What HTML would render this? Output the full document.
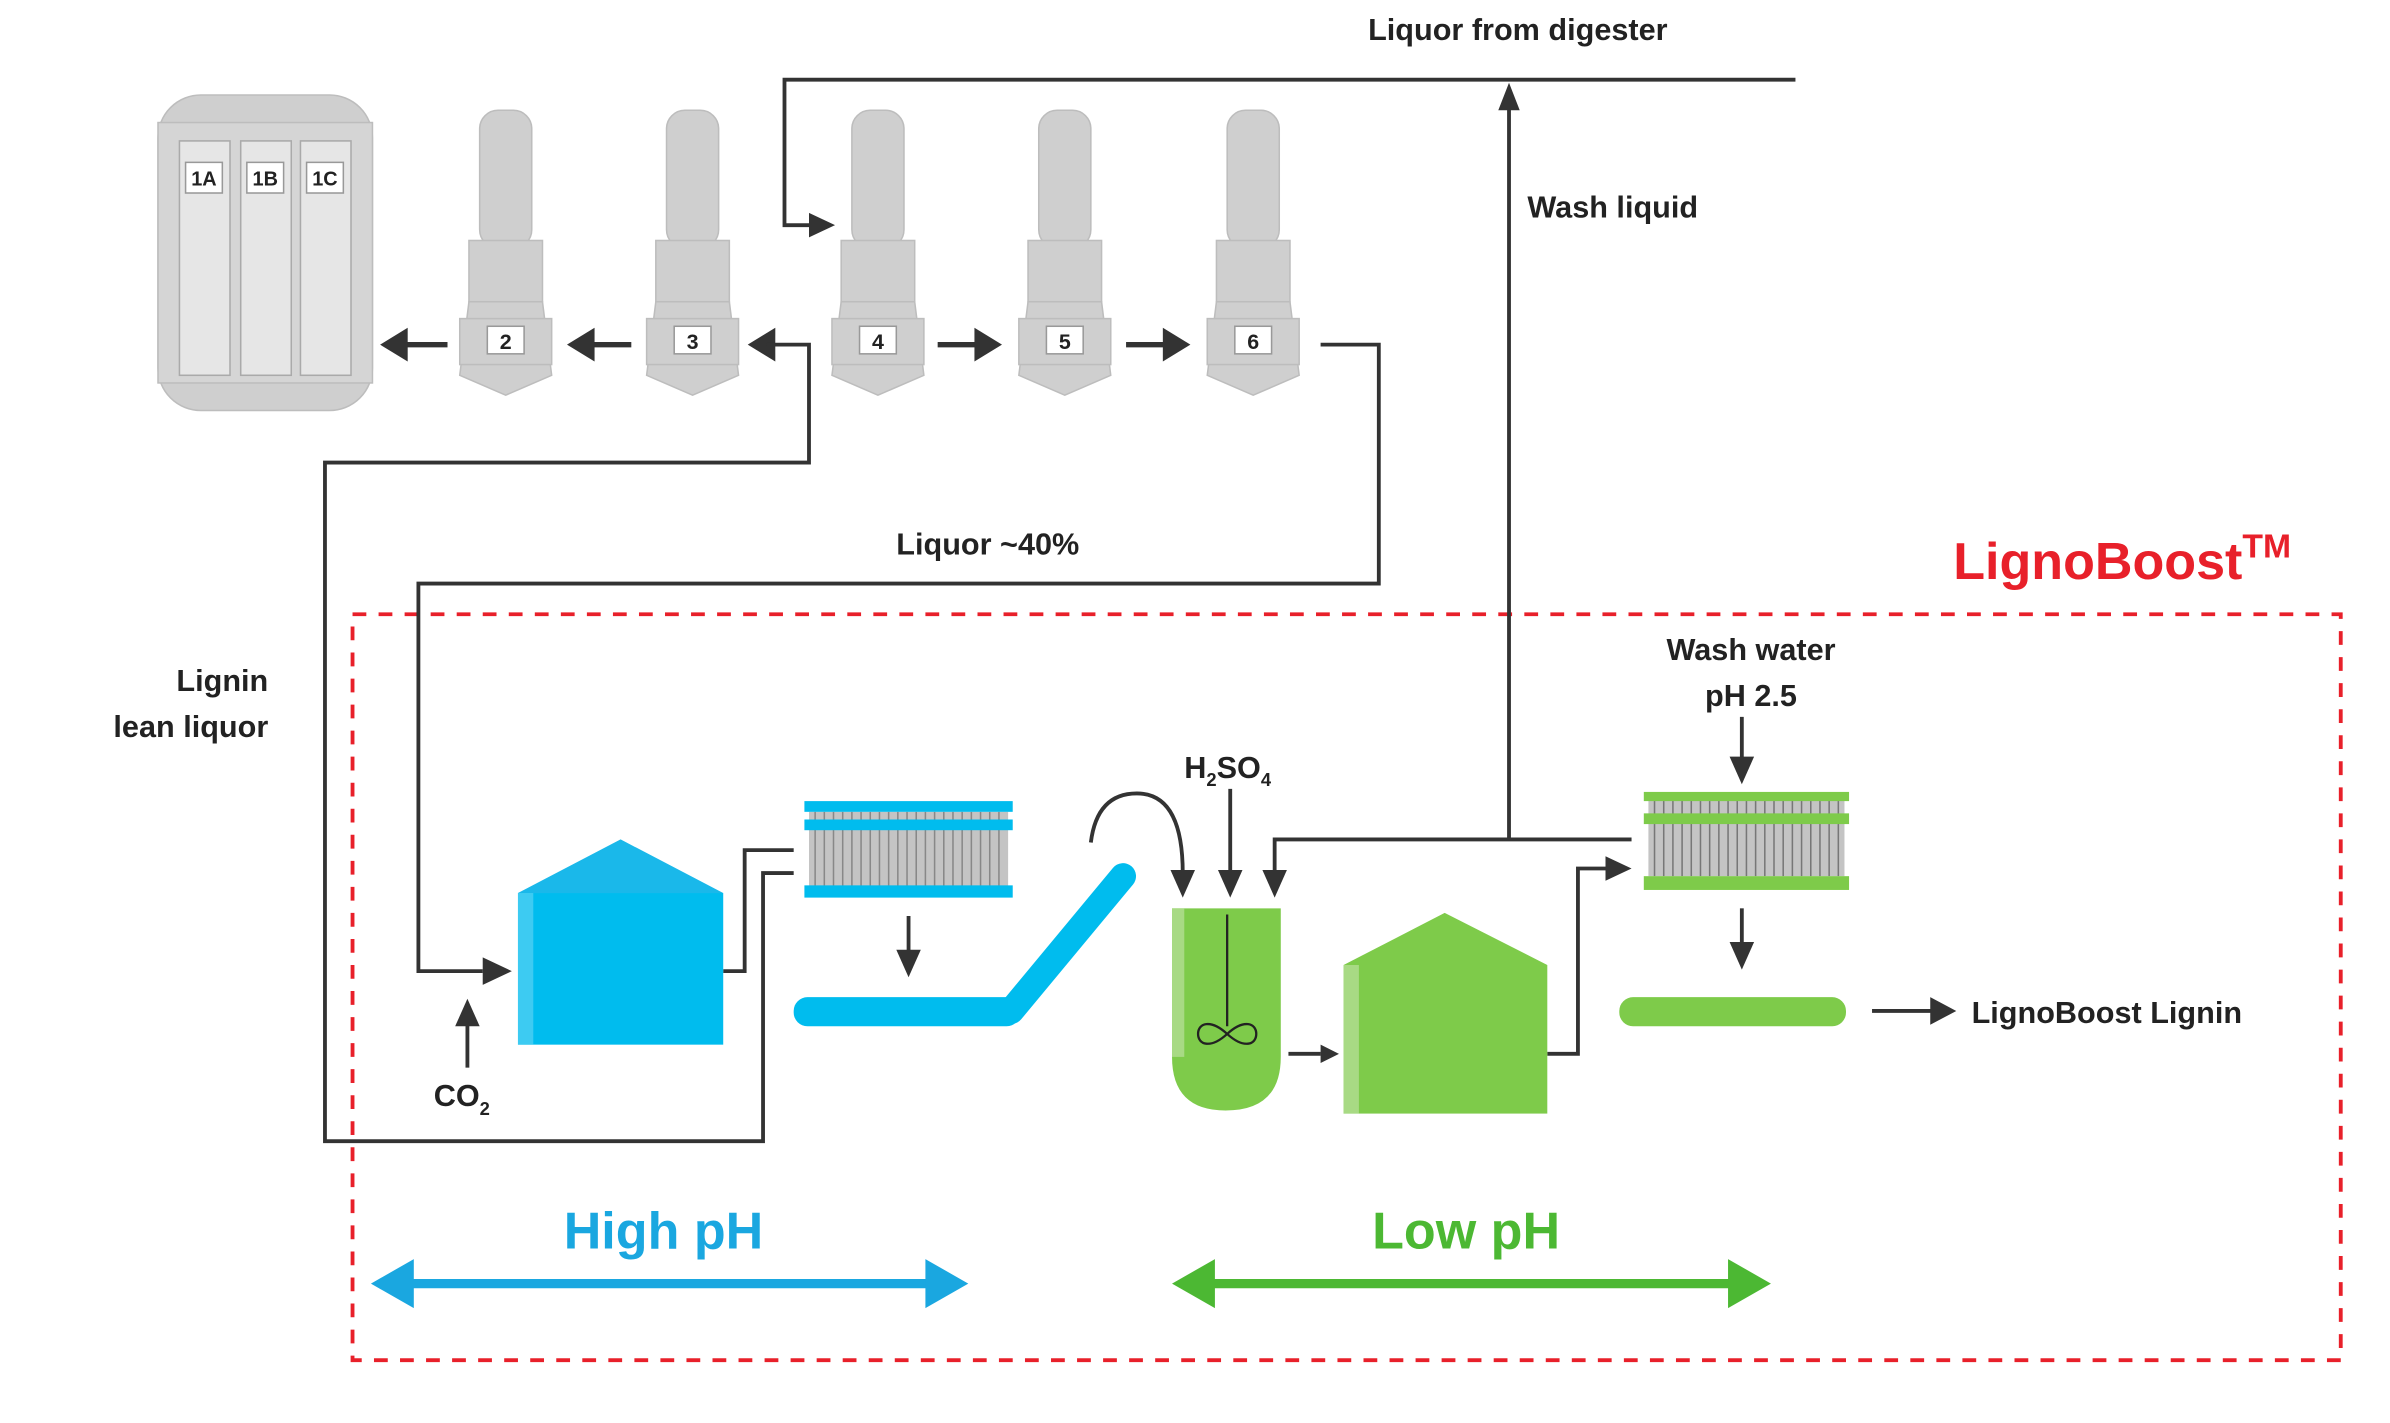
<!DOCTYPE html>
<html><head><meta charset="utf-8"><style>
html,body{margin:0;padding:0;background:#fff;}
svg{display:block;}
text{font-family:"Liberation Sans",sans-serif;font-weight:bold;}
</style></head><body>
<svg width="2390" height="1423" viewBox="0 0 1560 929" xmlns="http://www.w3.org/2000/svg">
<defs>
<g id="vessel">
<rect x="-17" y="72" width="34" height="90" rx="12" fill="#cfcfcf" stroke="#bdbdbd"/>
<rect x="-24" y="157" width="48" height="40" fill="#cfcfcf" stroke="#bdbdbd"/>
<path d="M-24,197 L24,197 L30,245 L0,258 L-30,245 Z" fill="#cfcfcf" stroke="#bdbdbd"/>
<rect x="-30" y="208" width="60" height="30" fill="#cfcfcf" stroke="#bdbdbd"/>
<rect x="-12" y="213" width="24" height="18" fill="#fff" stroke="#999"/>
</g>
</defs>

<rect x="230" y="401" width="1298" height="487" fill="none" stroke="#e8202a" stroke-width="2.5" stroke-dasharray="9,8"/>

<rect x="103" y="62" width="140" height="206" rx="28" fill="#cfcfcf" stroke="#bdbdbd"/>
<rect x="103" y="80" width="140" height="170" fill="#d5d5d5" stroke="#bdbdbd"/>
<rect x="117" y="92" width="33" height="153" fill="#e6e6e6" stroke="#aaa"/>
<rect x="157" y="92" width="33" height="153" fill="#e6e6e6" stroke="#aaa"/>
<rect x="196" y="92" width="33" height="153" fill="#e6e6e6" stroke="#aaa"/>
<rect x="121" y="106" width="24" height="20" fill="#fff" stroke="#999"/>
<rect x="161" y="106" width="24" height="20" fill="#fff" stroke="#999"/>
<rect x="200" y="106" width="24" height="20" fill="#fff" stroke="#999"/>
<g font-size="13" text-anchor="middle" fill="#222" style="font-weight:normal">
<text x="133" y="121">1A</text><text x="173" y="121">1B</text><text x="212" y="121">1C</text></g>

<use href="#vessel" x="330"/><use href="#vessel" x="452"/><use href="#vessel" x="573"/><use href="#vessel" x="695"/><use href="#vessel" x="818"/>
<g font-size="14" text-anchor="middle" fill="#222">
<text x="330" y="228">2</text><text x="452" y="228">3</text><text x="573" y="228">4</text><text x="695" y="228">5</text><text x="818" y="228">6</text></g>

<g stroke="#333" stroke-width="3.5" fill="none">
<line x1="292" y1="225" x2="262" y2="225"/>
<line x1="412" y1="225" x2="384" y2="225"/>
<line x1="612" y1="225" x2="640" y2="225"/>
<line x1="735" y1="225" x2="762" y2="225"/>
</g>
<g fill="#333">
<path d="M248,225 L266,214 L266,236 Z"/>
<path d="M370,225 L388,214 L388,236 Z"/>
<path d="M488,225 L506,214 L506,236 Z"/>
<path d="M654,225 L636,214 L636,236 Z"/>
<path d="M777,225 L759,214 L759,236 Z"/>
</g>
<g stroke="#333" stroke-width="2.5" fill="none">
<polyline points="500,225 528,225 528,302 212,302 212,745 498,745 498,570 518,570"/>
<polyline points="862,225 900,225 900,381 273,381 273,634 315,634"/>
<polyline points="1172,52 512,52 512,147 528,147"/>
<polyline points="472,634 486,634 486,555 518,555"/>
<line x1="985" y1="548" x2="985" y2="70"/>
<polyline points="1065,548 832,548 832,570"/>
<polyline points="1010,688 1030,688 1030,567 1048,567"/>
<line x1="841" y1="688" x2="862" y2="688"/>
</g>
<g fill="#333">
<path d="M978,72 L985,54 L992,72 Z"/>
<path d="M315,625 L334,634 L315,643 Z"/>
<path d="M528,139 L545,147 L528,155 Z"/>
<path d="M1048,559 L1065,567 L1048,575 Z"/>
<path d="M862,682 L874,688 L862,694 Z"/>
<path d="M824,568 L832,586 L840,568 Z"/>
</g>
<g stroke="#333" stroke-width="2.5" fill="none">
<path d="M712,550 Q716,518 742,518 Q772,518 772,570"/>
<line x1="803" y1="515" x2="803" y2="570"/>
<line x1="593" y1="598" x2="593" y2="622"/>
<line x1="305" y1="697" x2="305" y2="668"/>
<line x1="1137" y1="468" x2="1137" y2="496"/>
<line x1="1137" y1="593" x2="1137" y2="617"/>
<line x1="1222" y1="660" x2="1262" y2="660"/>
</g>
<g fill="#333">
<path d="M764,568 L772,586 L780,568 Z"/>
<path d="M795,568 L803,586 L811,568 Z"/>
<path d="M585,620 L593,638 L601,620 Z"/>
<path d="M297,670 L305,652 L313,670 Z"/>
<path d="M1129,494 L1137,512 L1145,494 Z"/>
<path d="M1129,615 L1137,633 L1145,615 Z"/>
<path d="M1260,651 L1277,660 L1260,669 Z"/>
</g>

<path d="M338,583 L405,548 L472,583 Z" fill="#1ab8ea"/>
<rect x="338" y="583" width="134" height="99" fill="#00bcee"/>
<rect x="338" y="583" width="10" height="99" fill="#3dcbf2"/>
<rect x="528" y="530" width="130" height="50" fill="#c4c4c4"/>
<g stroke="#888" stroke-width="1">
<path d="M532,530V580M538,530V580M544,530V580M550,530V580M556,530V580M562,530V580M568,530V580M574,530V580M580,530V580M586,530V580M592,530V580M598,530V580M604,530V580M610,530V580M616,530V580M622,530V580M628,530V580M634,530V580M640,530V580M646,530V580M652,530V580"/></g>
<rect x="525" y="523" width="136" height="7" fill="#00bcee"/>
<rect x="525" y="535" width="136" height="7" fill="#00bcee"/>
<rect x="525" y="578" width="136" height="8" fill="#00bcee"/>
<rect x="518" y="651" width="148" height="19" rx="9" fill="#00bcee"/>
<line x1="660" y1="660" x2="733" y2="572" stroke="#00bcee" stroke-width="17" stroke-linecap="round"/>

<path d="M765,593 L836,593 L836,690 Q836,725 800,725 Q765,725 765,690 Z" fill="#7ecb4a"/>
<rect x="765" y="593" width="8" height="97" fill="#a8da84"/>
<line x1="801" y1="597" x2="801" y2="670" stroke="#222" stroke-width="1.5"/>
<path d="M801,675 C790,665 782,668 782,675 C782,682 790,685 801,675 C812,665 820,668 820,675 C820,682 812,685 801,675 Z" fill="none" stroke="#222" stroke-width="1.5"/>
<path d="M877,630 L943,596 L1010,630 Z" fill="#7ecb4a"/>
<rect x="877" y="630" width="133" height="97" fill="#7ecb4a"/>
<rect x="877" y="630" width="10" height="97" fill="#a8da84"/>
<rect x="1076" y="522" width="128" height="50" fill="#c4c4c4"/>
<g stroke="#777" stroke-width="1">
<path d="M1080,522V572M1086,522V572M1092,522V572M1098,522V572M1104,522V572M1110,522V572M1116,522V572M1122,522V572M1128,522V572M1134,522V572M1140,522V572M1146,522V572M1152,522V572M1158,522V572M1164,522V572M1170,522V572M1176,522V572M1182,522V572M1188,522V572M1194,522V572M1200,522V572"/></g>
<rect x="1073" y="517" width="134" height="6" fill="#7ecb4a"/>
<rect x="1073" y="531" width="134" height="7" fill="#7ecb4a"/>
<rect x="1073" y="572" width="134" height="9" fill="#7ecb4a"/>
<rect x="1057" y="651" width="148" height="19" rx="9" fill="#7ecb4a"/>

<line x1="260" y1="838" x2="614" y2="838" stroke="#1aa7e0" stroke-width="6"/>
<path d="M242,838 L270,822 L270,854 Z M632,838 L604,822 L604,854 Z" fill="#1aa7e0"/>
<line x1="783" y1="838" x2="1138" y2="838" stroke="#4cb833" stroke-width="6"/>
<path d="M765,838 L793,822 L793,854 Z M1156,838 L1128,822 L1128,854 Z" fill="#4cb833"/>

<g fill="#222" font-size="20">
<text x="893" y="26">Liquor from digester</text>
<text x="997" y="142">Wash liquid</text>
<text x="585" y="362">Liquor ~40%</text>
<text x="175" y="451" text-anchor="end">Lignin</text>
<text x="175" y="481" text-anchor="end">lean liquor</text>
<text x="1143" y="431" text-anchor="middle">Wash water</text>
<text x="1143" y="461" text-anchor="middle">pH 2.5</text>
<text x="1287" y="668">LignoBoost Lignin</text>
<text x="773" y="508">H<tspan font-size="12" dy="5">2</tspan><tspan dy="-5">SO</tspan><tspan font-size="12" dy="5">4</tspan></text>
<text x="283" y="722">CO<tspan font-size="12" dy="6">2</tspan></text>
</g>
<text x="1275" y="378" font-size="34" fill="#e8202a">LignoBoost<tspan font-size="22" dy="-14">TM</tspan></text>
<text x="433" y="815" font-size="34" fill="#1aa7e0" text-anchor="middle">High pH</text>
<text x="957" y="815" font-size="34" fill="#4cb833" text-anchor="middle">Low pH</text>
</svg>
</body></html>
